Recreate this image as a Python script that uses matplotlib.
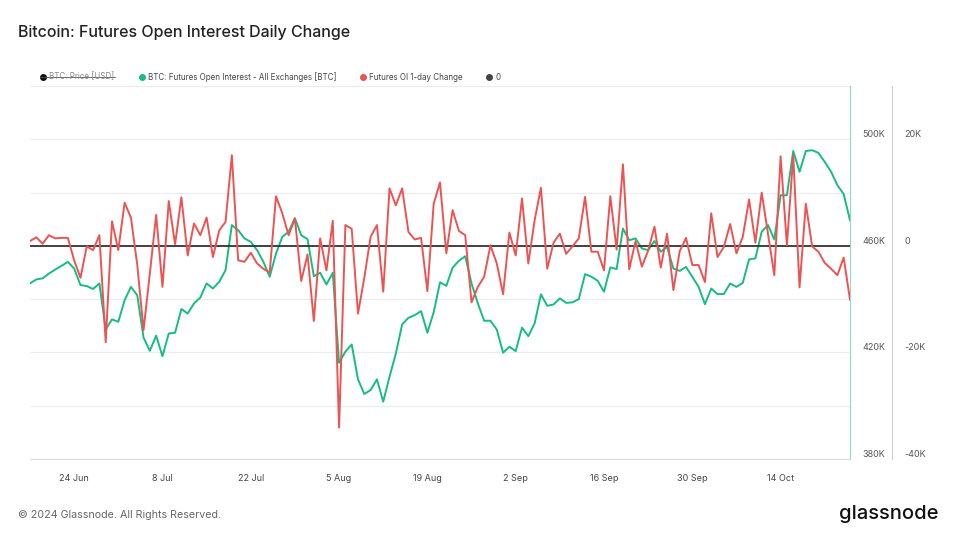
import matplotlib.pyplot as plt
import matplotlib.dates as mdates
from matplotlib.lines import Line2D
import pandas as pd

plt.rcParams['font.family'] = ['Inter', 'DejaVu Sans']

# Daily dates, 17 Jun -> 25 Oct 2024
dates = pd.date_range('2024-06-17', '2024-10-25', freq='D')

# BTC futures open interest, all exchanges (thousand BTC)
open_interest_k = [
    445.9, 447.4, 447.8, 449.6, 451.1, 452.5, 454.0, 451.5, 445.3, 444.9,
    443.8, 445.9, 428.6, 432.4, 431.5, 439.6, 444.6, 441.5, 425.6, 420.6,
    426.3, 418.6, 427.1, 427.4, 436.3, 434.6, 438.4, 440.6, 445.9, 444.0,
    446.5, 450.9, 467.8, 465.9, 462.8, 461.5, 458.4, 454.0, 448.4, 457.1,
    463.4, 465.3, 470.4, 464.0, 462.5, 448.6, 449.9, 445.5, 449.9, 416.1,
    420.3, 423.0, 409.9, 404.4, 405.9, 409.9, 401.5, 410.9, 419.6, 430.5,
    433.0, 434.0, 435.5, 427.4, 435.1, 446.3, 445.0, 451.8, 454.4, 456.1,
    445.9, 438.4, 431.9, 431.9, 428.6, 419.9, 422.1, 420.5, 429.3, 426.1,
    430.9, 441.8, 437.5, 438.0, 440.3, 438.6, 438.8, 440.0, 449.4, 448.4,
    446.9, 442.8, 451.9, 451.3, 466.5, 462.1, 462.8, 459.0, 458.4, 461.8,
    457.8, 459.6, 451.5, 450.6, 452.1, 448.4, 444.6, 438.1, 444.0, 441.9,
    441.9, 445.9, 444.6, 446.1, 454.9, 455.3, 465.3, 467.8, 462.4, 479.0,
    479.0, 495.6, 487.8, 495.6, 495.9, 494.9, 491.5, 487.8, 482.8, 479.4,
    469.6,
]

# Futures OI 1-day change (thousand BTC)
oi_change_k = [
    0.9, 1.6, 0.4, 2.0, 1.4, 1.5, 1.5, -2.7, -6.0, -0.1,
    -0.8, 2.0, -18.1, 4.6, -0.8, 8.1, 5.3, -3.5, -15.8, -5.2,
    5.8, -7.7, 8.4, 0.3, 9.1, -1.8, 4.2, 2.0, 5.3, -2.1,
    2.9, 4.5, 17.0, -2.7, -3.0, -1.3, -3.3, -4.3, -5.0, 9.3,
    6.1, 2.0, 5.1, -6.6, -1.6, -14.1, 1.4, -4.6, 4.7, -34.1,
    3.9, 3.2, -12.7, -6.0, 1.7, 3.9, -8.6, 10.8, 7.6, 10.8,
    2.6, 1.2, 1.5, -8.5, 7.9, 11.9, -1.4, 6.7, 2.8, 2.0,
    -10.6, -7.7, -5.8, 0.1, -3.3, -9.1, 2.5, -1.8, 8.9, -3.3,
    4.8, 10.9, -4.3, 0.6, 2.3, -1.5, -0.1, 1.4, 9.2, -1.1,
    -1.1, -4.6, 9.3, -0.7, 15.3, -4.4, 0.9, -3.9, -0.9, 3.6,
    -4.1, 2.3, -8.3, -1.0, 1.5, -3.6, -3.6, -6.8, 6.1, -2.1,
    -0.2, 4.1, -1.4, 1.7, 8.7, 0.6, 10.0, 2.3, -5.5, 16.8,
    0.1, 17.0, -7.8, 7.9, -0.1, -1.1, -3.2, -4.3, -5.5, -2.2,
    -10.1,
]

tick_dates = pd.to_datetime(['2024-06-24', '2024-07-08', '2024-07-22', '2024-08-05',
                             '2024-08-19', '2024-09-02', '2024-09-16', '2024-09-30',
                             '2024-10-14'])
oi_ticks = [380, 420, 460, 500]
oi_grid = [400, 440, 480, 520]
change_ticks = [-40, -20, 0, 20]

green = '#16bd80'
red = '#ec5353'

fig = plt.figure(figsize=(9.56, 5.34), dpi=100)
ax = fig.add_axes([30 / 956, 1 - 459 / 534, 820 / 956, 373 / 534])
ax_ch = ax.twinx()

# open interest (main axis)
ax.plot(dates, open_interest_k, color=green, lw=1.4, zorder=3)
ax.set_ylim(380, 520)
ax.set_xlim(dates[0], dates[-1])
ax.yaxis.tick_right()
ax.tick_params(axis='y', which='both', length=0, pad=9, labelsize=6.5, labelcolor='#555555')
ax.set_yticks(oi_ticks)
ax.set_yticks(oi_grid, minor=True)
ax.set_yticklabels([f'{v}K' for v in oi_ticks], va='bottom')
ax.grid(axis='y', which='both', color='#ececec', lw=0.8)
ax.set_xticks(tick_dates)
ax.xaxis.set_major_formatter(mdates.DateFormatter('%-d %b'))
ax.tick_params(axis='x', length=0, pad=11, labelsize=6.5, labelcolor='#444444')
for s in ['left', 'top']:
    ax.spines[s].set_visible(False)
ax.spines['bottom'].set_color('#dddddd')
ax.spines['right'].set_color('#8edcc0')

# daily change (second axis)
ax_ch.axhline(0, color='#333333', lw=1.3, zorder=2)
ax_ch.plot(dates, oi_change_k, color=red, lw=1.4, zorder=3)
ax_ch.set_ylim(-40, 30)
ax_ch.spines['right'].set_position(('outward', 30.2))
ax_ch.spines['right'].set_color('#cccccc')
for s in ['left', 'top', 'bottom']:
    ax_ch.spines[s].set_visible(False)
ax_ch.tick_params(axis='y', length=0, pad=9, labelsize=6.5, labelcolor='#555555')
ax_ch.set_yticks(change_ticks)
ax_ch.set_yticklabels([f'{v}K' if v != 0 else '0' for v in change_ticks])
plt.setp(ax_ch.get_yticklabels(), va='bottom')
for t in ax_ch.yaxis.get_major_ticks():
    t.label2.set_va('bottom')

# title
fig.text(18 / 956, 1 - 32 / 534, 'Bitcoin: Futures Open Interest Daily Change',
         fontsize=11.5, fontweight='medium', color='#222222', va='center', ha='left')

# legend row
leg_y = 1 - 77 / 534
legend_items = [
    (43, '#111111', 'BTC: Price [USD]', '#888888'),
    (142, green, 'BTC: Futures Open Interest - All Exchanges [BTC]', '#444444'),
    (363, red, 'Futures OI 1-day Change', '#444444'),
    (489, '#444444', '0', '#444444'),
]
for x, c, label, tc in legend_items:
    fig.add_artist(Line2D([x / 956], [leg_y], marker='o', markersize=4, color=c,
                          transform=fig.transFigure))
    fig.text((x + 6) / 956, leg_y, label, fontsize=5.75, color=tc, va='center', ha='left')
# strike-through on the disabled price series
fig.add_artist(Line2D([40 / 956, 115 / 956], [leg_y, leg_y], color='#555555', lw=0.6,
                      transform=fig.transFigure))

# footer
fig.text(18 / 956, 1 - 515 / 534, '\u00a9 2024 Glassnode. All Rights Reserved.',
         fontsize=7.7, color='#666666', va='center', ha='left')
fig.text(938 / 956, 1 - 514 / 534, 'glassnode', fontsize=14.5, fontweight='medium',
         color='#111111', va='center', ha='right')

fig.savefig('out.png', dpi=100)
